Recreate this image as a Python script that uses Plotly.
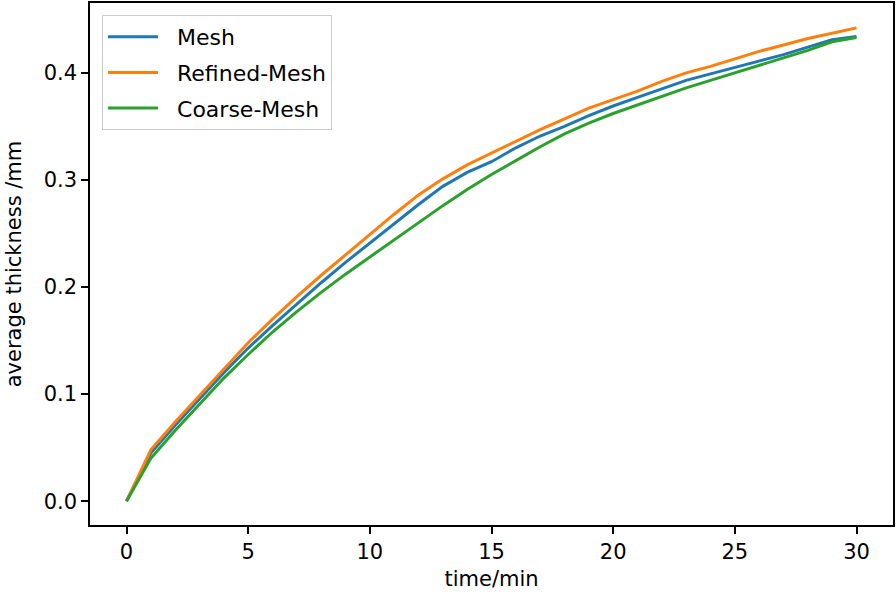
import plotly.graph_objects as go

time_min = list(range(31))
mesh = [0, 0.045, 0.071, 0.096, 0.120, 0.143, 0.164, 0.184, 0.204, 0.223, 0.241,
        0.259, 0.277, 0.294, 0.307, 0.317, 0.330, 0.341, 0.350, 0.360, 0.369,
        0.377, 0.385, 0.393, 0.399, 0.405, 0.411, 0.417, 0.424, 0.431, 0.434]
refined = [0, 0.048, 0.074, 0.099, 0.124, 0.148, 0.170, 0.191, 0.211, 0.230, 0.249,
           0.268, 0.286, 0.301, 0.314, 0.325, 0.336, 0.347, 0.357, 0.367, 0.375,
           0.383, 0.392, 0.400, 0.406, 0.413, 0.420, 0.426, 0.432, 0.437, 0.442]
coarse = [0, 0.040, 0.066, 0.091, 0.115, 0.137, 0.158, 0.177, 0.195, 0.212, 0.228,
          0.244, 0.260, 0.276, 0.291, 0.305, 0.318, 0.331, 0.343, 0.353, 0.362,
          0.370, 0.378, 0.386, 0.393, 0.400, 0.407, 0.414, 0.421, 0.429, 0.433]

series = [("Mesh", mesh, "#1f77b4"),
          ("Refined-Mesh", refined, "#ff7f0e"),
          ("Coarse-Mesh", coarse, "#2ca02c")]

x_ticks = [0, 5, 10, 15, 20, 25, 30]
y_ticks = [0.0, 0.1, 0.2, 0.3, 0.4]
y_tick_text = ["0.0", "0.1", "0.2", "0.3", "0.4"]

FS = 21

fig = go.Figure()
for i, (name, vals, color) in enumerate(series):
    fig.add_trace(go.Scatter(x=time_min, y=vals, mode="lines",
                             name="\u00a0\u00a0" + name,
                             legendgroup=f"g{i}",
                             line=dict(color=color, width=3)))

axis_common = dict(showline=True, mirror=True, linecolor="black", linewidth=1.5,
                   ticks="outside", ticklen=7, tickwidth=1.5, tickcolor="black",
                   showgrid=False, zeroline=False, automargin=False,
                   tickfont=dict(size=FS, color="black"))

fig.update_layout(
    width=896, height=596,
    margin=dict(l=90, r=3, t=3, b=71),
    paper_bgcolor="white", plot_bgcolor="white",
    font=dict(family="DejaVu Sans", size=FS, color="black"),
    xaxis=dict(range=[-1.5, 31.5], tickvals=x_ticks,
               title=dict(text="time/min", font=dict(size=FS), standoff=8),
               **axis_common),
    yaxis=dict(range=[-0.0222, 0.4652], tickvals=y_ticks, ticktext=y_tick_text,
               title=dict(text="average thickness /mm", font=dict(size=FS), standoff=16),
               **axis_common),
    legend=dict(x=0.015, y=0.977, xanchor="left", yanchor="top",
                bgcolor="rgba(255,255,255,0.8)", bordercolor="#cccccc", borderwidth=1,
                font=dict(size=22), tracegroupgap=4, itemwidth=50),
    showlegend=True,
)

fig.write_html("out.html", config={"displayModeBar": False},
               post_script="document.body.style.margin='0';document.body.style.overflow='hidden';")
